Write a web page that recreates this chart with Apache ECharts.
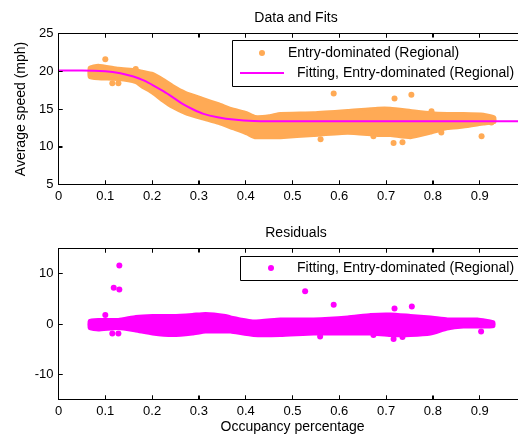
<!DOCTYPE html>
<html>
<head>
<meta charset="utf-8">
<script src="https://cdn.jsdelivr.net/npm/echarts@6/dist/echarts.min.js"></script>
<style>
html,body{margin:0;padding:0;background:#fff;}
#chart{width:518px;height:436px;}
</style>
</head>
<body>
<div id="chart"></div>
<script>
// ---- Data ----
var xTicks = [0, 0.1, 0.2, 0.3, 0.4, 0.5, 0.6, 0.7, 0.8, 0.9, 1];
var speedTicks = [5, 10, 15, 20, 25];
var residTicks = [-10, 0, 10];

// Dense band of entry-dominated points: lower / upper edge of the cloud
var topBandX    = [0.066, 0.085, 0.128, 0.165, 0.179, 0.201, 0.222, 0.244, 0.271, 0.308, 0.342, 0.372, 0.402, 0.42, 0.45, 0.474, 0.545, 0.618, 0.682, 0.709, 0.752, 0.795, 0.831, 0.865, 0.908, 0.932];
var topBandLow  = [19.2, 19.0, 18.9, 18.5, 17.9, 17.1, 16.1, 15.2, 14.4, 13.7, 13.1, 12.4, 11.7, 11.2, 11.2, 11.2, 11.5, 11.8, 11.5, 11.5, 11.2, 11.8, 12.4, 12.6, 13.0, 13.2];
var topBandHigh = [20.5, 20.8, 20.4, 20.2, 20.0, 19.7, 19.0, 18.1, 17.2, 16.4, 15.7, 15.0, 14.5, 14.0, 14.1, 14.4, 14.5, 14.8, 15.1, 15.1, 14.8, 14.5, 14.4, 14.4, 14.3, 13.9];

// Isolated entry-dominated points
var topOutX = [0.100, 0.115, 0.128, 0.165, 0.588, 0.718, 0.754, 0.797, 0.560, 0.673, 0.716, 0.735, 0.818, 0.904, 0.925];
var topOutY = [21.6, 18.4, 18.4, 20.3, 17.05, 16.4, 16.9, 14.7, 11.0, 11.4, 10.5, 10.6, 11.9, 11.4, 13.2];

// Fitted curve
var fitX = [0, 0.05, 0.1, 0.132, 0.16, 0.182, 0.203, 0.224, 0.246, 0.267, 0.289, 0.31, 0.34, 0.374, 0.417, 0.5, 0.6, 0.7, 0.8, 0.9, 1.0];
var fitY = [20.1, 20.1, 20.0, 19.74, 19.3, 18.78, 18.11, 17.36, 16.48, 15.6, 14.9, 14.36, 13.92, 13.6, 13.42, 13.38, 13.38, 13.38, 13.38, 13.38, 13.38];

// Residual band
var botBandX    = [0.066, 0.085, 0.128, 0.165, 0.201, 0.244, 0.286, 0.314, 0.357, 0.368, 0.417, 0.474, 0.545, 0.618, 0.667, 0.709, 0.752, 0.795, 0.831, 0.865, 0.895, 0.93];
var botBandLow  = [-0.9, -1.2, -0.9, -1.4, -2.0, -2.3, -2.0, -1.6, -1.6, -1.6, -2.3, -2.3, -2.0, -2.0, -2.0, -2.3, -2.3, -2.0, -1.0, -0.6, -0.6, -0.5];
var botBandHigh = [0.7, 0.9, 0.9, 1.5, 1.7, 1.7, 1.9, 2.1, 1.7, 1.4, 0.6, 1.0, 1.0, 1.4, 1.9, 2.0, 1.7, 1.4, 1.0, 1.0, 1.0, 0.4];

// Isolated residual points
var botOutX = [0.130, 0.118, 0.130, 0.100, 0.115, 0.128, 0.527, 0.588, 0.718, 0.755, 0.716, 0.735, 0.559, 0.673, 0.903, 0.925];
var botOutY = [11.6, 7.2, 6.85, 1.8, -1.9, -1.9, 6.5, 3.8, 3.1, 3.5, -3.0, -2.6, -2.5, -2.2, -1.5, 0.15];

var seriesNames = ['Entry-dominated (Regional)', 'Fitting, Entry-dominated (Regional)'];

// ---- Build ----
var ORANGE = '#FFAA55', MAGENTA = '#FF00FF';
var FONT = "'Liberation Sans', Arial, Helvetica, sans-serif";

function pairs(xs, ys) { return xs.map(function (x, i) { return [x, ys[i]]; }); }

// A band (cloud of overlapping dots) drawn as a polygon between its lower and upper edge,
// positioned through the axes' scales with api.coord.
function bandSeries(xi, yi, xs, low, high, color, name) {
  return {
    type: 'custom', name: name, xAxisIndex: xi, yAxisIndex: yi, silent: true, clip: true, z: 2,
    data: xs.map(function (x, i) { return [x, low[i], high[i]]; }),
    renderItem: function (params, api) {
      if (params.dataIndex !== 0) return null;
      var pts = [];
      for (var i = 0; i < xs.length; i++) pts.push(api.coord([xs[i], high[i]]));
      for (var j = xs.length - 1; j >= 0; j--) pts.push(api.coord([xs[j], low[j]]));
      return { type: 'polygon', shape: { points: pts, smooth: 0.15 },
        style: { fill: color, stroke: color, lineWidth: 3, lineJoin: 'round' } };
    }
  };
}

// MATLAB-style box with inward ticks, placed through the axes' scales.
function frameSeries(xi, yi, yMin, yMax, yTicks) {
  return {
    type: 'custom', name: 'frame', xAxisIndex: xi, yAxisIndex: yi, silent: true, clip: false, z: 10,
    data: [[0, yMin]],
    renderItem: function (params, api) {
      function s(v) { return Math.floor(v) + 0.5; }
      var tl = api.coord([0, yMax]), br = api.coord([1, yMin]);
      var x0 = s(tl[0]), y0 = s(tl[1]), x1 = s(br[0]), y1 = s(br[1]);
      var st = { stroke: '#000', lineWidth: 1 };
      var ch = [{ type: 'rect', shape: { x: x0, y: y0, width: x1 - x0, height: y1 - y0 },
        style: { stroke: '#000', fill: 'none', lineWidth: 1 } }];
      xTicks.forEach(function (t) {
        var px = s(api.coord([t, yMin])[0]);
        ch.push({ type: 'line', shape: { x1: px, y1: y1, x2: px, y2: y1 - 4 }, style: st });
        ch.push({ type: 'line', shape: { x1: px, y1: y0, x2: px, y2: y0 + 4 }, style: st });
      });
      yTicks.forEach(function (t) {
        var py = s(api.coord([0, t])[1]);
        ch.push({ type: 'line', shape: { x1: x0, y1: py, x2: x0 + 4, y2: py }, style: st });
      });
      return { type: 'group', children: ch };
    }
  };
}

function xAx(gi, pos, showLabel, name) {
  var a = {
    type: 'value', gridIndex: gi, min: 0, max: 1, interval: 0.1, position: pos,
    axisLine: { show: true, onZero: false, lineStyle: { color: '#000', width: 1 } },
    axisTick: { show: true, inside: true, length: 4, lineStyle: { color: '#000', width: 1 } },
    axisLabel: { show: showLabel, color: '#000', fontSize: 13, fontFamily: FONT, margin: 5 },
    splitLine: { show: false }
  };
  if (name) {
    a.name = name; a.nameLocation = 'middle'; a.nameGap = 21;
    a.nameTextStyle = { color: '#000', fontSize: 14, fontFamily: FONT };
  }
  return a;
}
function yAx(gi, min, max, interval, custom, name) {
  var a = {
    type: 'value', gridIndex: gi, min: min, max: max,
    axisLine: { show: true, onZero: false, lineStyle: { color: '#000', width: 1 } },
    axisTick: { show: true, inside: true, length: 4, lineStyle: { color: '#000', width: 1 } },
    axisLabel: { show: true, color: '#000', fontSize: 13, fontFamily: FONT, margin: 5 },
    splitLine: { show: false }
  };
  if (interval) a.interval = interval;
  if (custom) { a.axisTick.customValues = custom.slice(); a.axisLabel.customValues = custom.slice(); }
  if (name) {
    a.name = name; a.nameLocation = 'middle'; a.nameGap = 29;
    a.nameTextStyle = { color: '#000', fontSize: 14, fontFamily: FONT };
  }
  return a;
}
function gridBox(top) {
  return { left: 58.5, top: top, width: 468, height: 151, outerBoundsMode: 'none',
    show: true, borderColor: '#000', borderWidth: 1, backgroundColor: 'rgba(0,0,0,0)' };
}

var option = {
  animation: false,
  backgroundColor: '#fff',
  title: [
    { text: 'Data and Fits', left: 291, top: 6, textAlign: 'center',
      textStyle: { fontSize: 14, fontWeight: 'normal', color: '#000', fontFamily: FONT } },
    { text: 'Residuals', left: 291, top: 221, textAlign: 'center',
      textStyle: { fontSize: 14, fontWeight: 'normal', color: '#000', fontFamily: FONT } }
  ],
  grid: [gridBox(33.5), gridBox(248.5)],
  xAxis: [
    xAx(0, 'bottom', true, null),
    xAx(0, 'top', false, null),
    xAx(1, 'bottom', true, 'Occupancy percentage'),
    xAx(1, 'top', false, null)
  ],
  yAxis: [
    yAx(0, 5, 25, 5, null, 'Average speed (mph)'),
    yAx(1, -15, 15, null, residTicks, null)
  ],
  series: [
    bandSeries(0, 0, topBandX, topBandLow, topBandHigh, ORANGE, seriesNames[0] + ' band'),
    { type: 'scatter', name: seriesNames[0], xAxisIndex: 0, yAxisIndex: 0, data: pairs(topOutX, topOutY),
      symbolSize: 6, itemStyle: { color: ORANGE, opacity: 1 }, z: 3 },
    { type: 'line', name: seriesNames[1], xAxisIndex: 0, yAxisIndex: 0, data: pairs(fitX, fitY),
      symbol: 'none', smooth: 0.3, lineStyle: { color: MAGENTA, width: 2 }, z: 5 },
    bandSeries(2, 1, botBandX, botBandLow, botBandHigh, MAGENTA, 'Residual band'),
    { type: 'scatter', name: seriesNames[1] + ' residuals', xAxisIndex: 2, yAxisIndex: 1, data: pairs(botOutX, botOutY),
      symbolSize: 6, itemStyle: { color: MAGENTA, opacity: 1 }, z: 3 },
    frameSeries(0, 0, 5, 25, speedTicks),
    frameSeries(2, 1, -15, 15, residTicks)
  ],
  graphic: [
    // top legend
    { type: 'rect', shape: { x: 232.5, y: 40.5, width: 292, height: 46 }, style: { fill: '#fff', stroke: '#000', lineWidth: 1 }, z: 100 },
    { type: 'circle', shape: { cx: 262, cy: 53, r: 3 }, style: { fill: ORANGE }, z: 101 },
    { type: 'text', x: 288, y: 53, style: { text: seriesNames[0], fill: '#000', font: '14px ' + FONT, verticalAlign: 'middle' }, z: 101 },
    { type: 'line', shape: { x1: 240, y1: 73, x2: 284, y2: 73 }, style: { stroke: MAGENTA, lineWidth: 2 }, z: 101 },
    { type: 'text', x: 297, y: 73, style: { text: seriesNames[1], fill: '#000', font: '14px ' + FONT, verticalAlign: 'middle' }, z: 101 },
    // bottom legend
    { type: 'rect', shape: { x: 240.5, y: 256.5, width: 284, height: 24 }, style: { fill: '#fff', stroke: '#000', lineWidth: 1 }, z: 100 },
    { type: 'circle', shape: { cx: 271, cy: 268, r: 3 }, style: { fill: MAGENTA }, z: 101 },
    { type: 'text', x: 297, y: 268, style: { text: seriesNames[1], fill: '#000', font: '14px ' + FONT, verticalAlign: 'middle' }, z: 101 }
  ]
};

var chart = echarts.init(document.getElementById('chart'), null, { renderer: 'canvas' });
chart.setOption(option);
</script>
</body>
</html>
